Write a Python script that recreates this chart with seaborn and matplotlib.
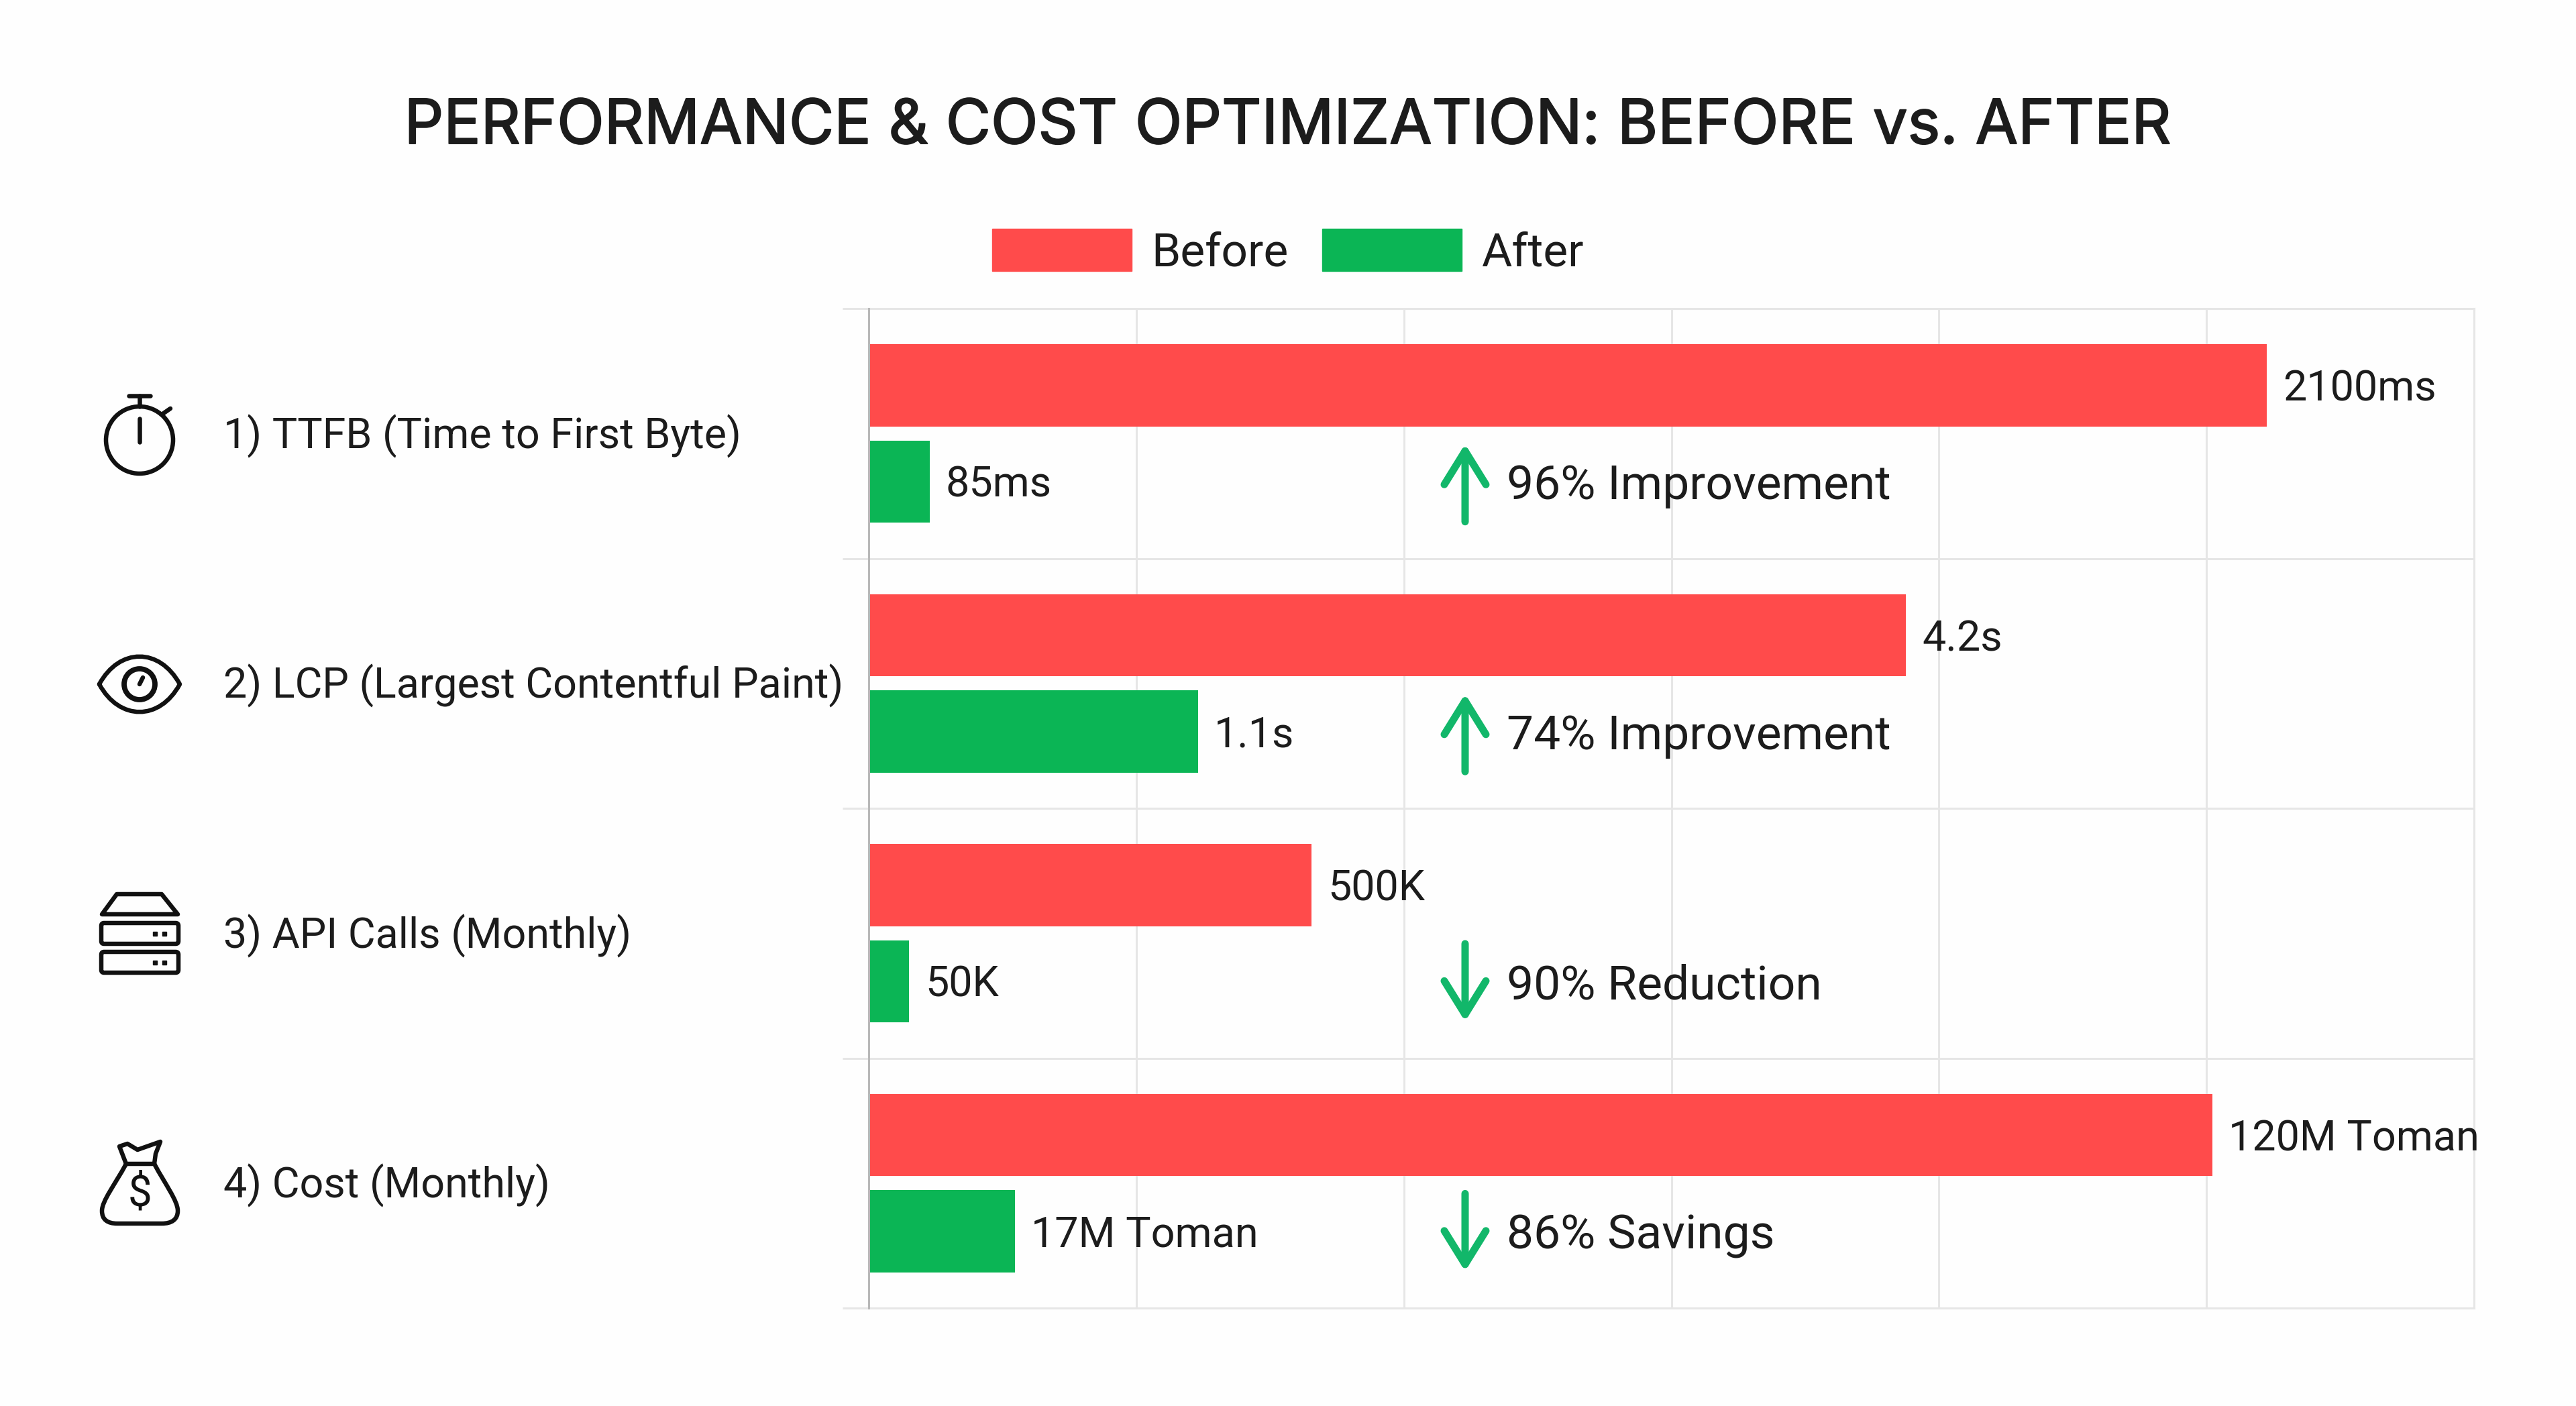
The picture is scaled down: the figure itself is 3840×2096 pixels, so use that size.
import numpy as np
import pandas as pd
import seaborn as sns
import matplotlib
matplotlib.use("Agg")
import matplotlib.pyplot as plt
import matplotlib.patheffects as pe
from matplotlib.patches import Patch, Circle, PathPatch, Polygon, Rectangle, FancyBboxPatch
from matplotlib.path import Path
from matplotlib.transforms import ScaledTranslation

categories = ["1) TTFB (Time to First Byte)", "2) LCP (Largest Contentful Paint)",
              "3) API Calls (Monthly)", "4) Cost (Monthly)"]
series_names = ["Before", "After"]
# bar lengths, on the chart's own 0-100 axis (each metric has its own unit)
before_length = [87.1, 64.6, 27.6, 83.7]
after_length = [3.8, 20.5, 2.5, 9.1]
before_labels = ["2100ms", "4.2s", "500K", "120M Toman"]
after_labels = ["85ms", "1.1s", "50K", "17M Toman"]
change_labels = ["96% Improvement", "74% Improvement", "90% Reduction", "86% Savings"]
change_up = [True, True, False, False]

RED, GREEN, ARROW = "#FF4B4B", "#0BB555", "#12B76A"
GRID, AXIS, INK = "#E6E6E6", "#B8B8B8", "#1C1C1C"
DPI = 100
PT = 72 / DPI  # points per output pixel
W, H = 3840, 2096

sns.set_theme(style="white")
plt.rcParams["font.family"] = ["Roboto", "DejaVu Sans"]

df = pd.DataFrame({
    "metric": categories * 2,
    "series": [series_names[0]] * 4 + [series_names[1]] * 4,
    "length": before_length + after_length,
})

fig = plt.figure(figsize=(W / DPI, H / DPI), dpi=DPI, facecolor="#FEFEFE")
ax = fig.add_axes([1295 / W, 1 - 1950 / H, (3688 - 1295) / W, (1950 - 460) / H])
ax.set_facecolor("#FEFEFE")

sns.barplot(data=df, y="metric", x="length", hue="series", order=categories,
            hue_order=series_names, palette=[RED, GREEN], saturation=1,
            width=0.77, gap=0.147, linewidth=0, legend=False, ax=ax)

ax.set_xlim(0, 100)
ax.set_ylim(3.5, -0.5)
ax.set_xlabel("")
ax.set_ylabel("")
ax.set_axisbelow(True)

ax.set_xticks(np.linspace(0, 100, 7))
ax.set_xticklabels([])
ax.tick_params(axis="x", length=0)
ax.xaxis.grid(True, color=GRID, lw=2.2)

ax.set_yticks(np.arange(4))
ax.set_yticklabels(categories, fontsize=45.2, color=INK, ha="left")
ax.set_yticks(np.arange(5) - 0.5, minor=True)
ax.tick_params(axis="y", which="major", left=False, length=0, pad=(1295 - 333) * PT)
ax.tick_params(axis="y", which="minor", left=True, length=39 * PT, width=2.2, color=GRID)
ax.yaxis.grid(True, which="minor", color=GRID, lw=2.2)
ax.yaxis.grid(False, which="major")
for tick_label in ax.get_yticklabels():
    tick_label.set_transform(tick_label.get_transform() + ScaledTranslation(0, 3.5 / DPI, fig.dpi_scale_trans))

for side in ("top", "right", "bottom"):
    ax.spines[side].set_color(GRID)
    ax.spines[side].set_linewidth(2.2)
ax.spines["left"].set_color(AXIS)
ax.spines["left"].set_linewidth(2.2)
ax.spines["left"].set_zorder(5)

for container, labels in zip(ax.containers, (before_labels, after_labels)):
    for ann in ax.bar_label(container, labels=labels, padding=24 * PT, fontsize=45.3, color=INK, clip_on=False):
        ann.xyann = (ann.xyann[0], -6 * PT)

for i, (label, up) in enumerate(zip(change_labels, change_up)):
    low, high = i + 0.042, i + 0.353
    start, end = (high, low) if up else (low, high)
    ax.annotate("", xy=(37.15, end), xytext=(37.15, start),
                arrowprops=dict(arrowstyle="->,head_length=%g,head_width=%g" % (50 * PT, 31 * PT),
                                mutation_scale=1, lw=11 * PT, color=ARROW,
                                shrinkA=0, shrinkB=0, capstyle="round", joinstyle="round"))
    ax.text(39.74, i + 0.211, label, fontsize=51.4, color=INK, ha="left", va="center")

title = fig.text(1920 / W, 1 - 190 / H, "PERFORMANCE & COST OPTIMIZATION: BEFORE vs. AFTER",
                 fontsize=66.3, family=["Inter", "DejaVu Sans"], color=INK, ha="center", va="center")
title.set_path_effects([pe.withStroke(linewidth=1.4, foreground=INK)])

LEG = 50
fig.legend(handles=[Patch(color=RED, label=series_names[0]), Patch(color=GREEN, label=series_names[1])],
           loc="center", bbox_to_anchor=(1920 / W, 1 - 376 / H), ncol=2, frameon=False,
           fontsize=LEG, handlelength=208 * PT / LEG, handleheight=70 * PT / LEG,
           handletextpad=29 * PT / LEG, columnspacing=51 * PT / LEG, borderpad=0,
           labelcolor=INK)

# ---- decorative line icons, in an overlay addressed in output pixels ----
ov = fig.add_axes([0, 0, 1, 1], facecolor="none")
ov.set_xlim(0, W)
ov.set_ylim(H, 0)
ov.axis("off")
LW = 6.5 * PT
style = dict(fill=False, ec="#111111", lw=LW, capstyle="round", joinstyle="round")


def stroke(xs, ys):
    ov.plot(xs, ys, color="#111111", lw=LW, solid_capstyle="round", solid_joinstyle="round")


# stopwatch
ov.add_patch(Circle((208, 656), 50, **style))
stroke([208, 208], [590, 606])
stroke([192, 224], [590, 590])
stroke([208, 208], [624, 659])
stroke([241, 254], [618, 609])

# eye
ov.add_patch(PathPatch(Path([(148, 1020), (178, 965), (238, 965), (268, 1020),
                             (238, 1075), (178, 1075), (148, 1020)],
                            [Path.MOVETO, Path.CURVE4, Path.CURVE4, Path.CURVE4,
                             Path.CURVE4, Path.CURVE4, Path.CURVE4]), **style))
ov.add_patch(Circle((208, 1020), 23, **dict(style, lw=LW * 1.2)))
stroke([208, 213], [1020, 1010])

# server
ov.add_patch(Polygon([(174, 1333), (241, 1333), (265, 1363), (152, 1363)], closed=True, **style))
for top in (1376, 1419):
    ov.add_patch(FancyBboxPatch((151, top), 115, 31, boxstyle="round,pad=0,rounding_size=4", **style))
    for x in (231, 245):
        ov.add_patch(Rectangle((x - 3, top + 13), 6, 6, color="#111111"))

# money bag
ov.add_patch(PathPatch(Path([(188, 1735), (172, 1765), (152, 1790), (152, 1805),
                             (152, 1818), (160, 1824), (175, 1824), (241, 1824),
                             (256, 1824), (265, 1818), (265, 1805), (265, 1790),
                             (246, 1765), (230, 1735), (188, 1735)],
                            [Path.MOVETO, Path.CURVE4, Path.CURVE4, Path.CURVE4,
                             Path.CURVE4, Path.CURVE4, Path.CURVE4, Path.LINETO,
                             Path.CURVE4, Path.CURVE4, Path.CURVE4, Path.CURVE4,
                             Path.CURVE4, Path.CURVE4, Path.LINETO]), **style))
stroke([188, 178, 190, 205, 222, 239, 232, 230], [1735, 1709, 1705, 1714, 1708, 1702, 1720, 1735])
ov.text(208, 1779, "$", fontsize=46, color="#111111", ha="center", va="center")

fig.savefig("out.png", dpi=DPI, facecolor=fig.get_facecolor())
